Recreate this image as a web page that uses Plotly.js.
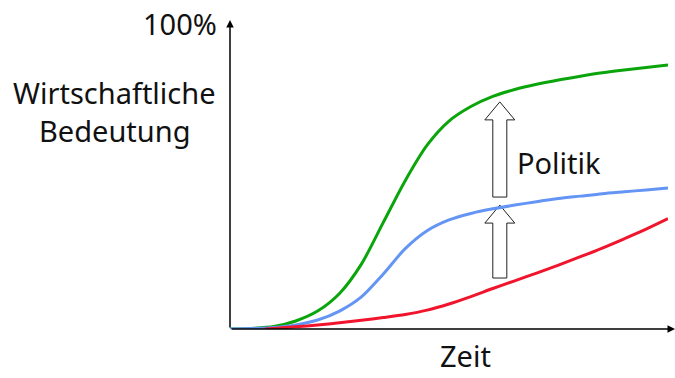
<!DOCTYPE html>
<html><head><meta charset="utf-8">
<script src="https://cdn.plot.ly/plotly-3.0.1.min.js"></script>
<style>html,body{margin:0;padding:0;background:#fff}#chart{width:675px;height:378px}</style>
</head><body><div id="chart"></div>
<script>
// Time (0..100) and economic importance (% of max)
const timeX = [0,5,10,15,20,25,30,35,40,45,50,55,60,65,70,75,80,85,90,95,100];
const greenY = [0,0.2,0.8,2.6,5.8,11.5,21.0,34.5,48.0,59.5,67.3,72.0,75.3,77.5,79.2,80.6,81.8,82.9,83.8,84.6,85.4];
const blueY  = [0,0.15,0.5,1.3,2.9,5.8,10.4,17.8,26.0,31.8,35.3,37.4,38.9,40.1,41.2,42.2,43.0,43.8,44.4,45.0,45.6];
const redX   = [8,10,15,20,25,30,35,40,45,50,55,60,65,70,75,80,85,90,95,100];
const redY   = [0,0.2,0.7,1.3,2.0,2.8,3.7,4.7,6.1,8.1,10.5,13.1,15.6,18.1,20.7,23.4,26.2,29.2,32.3,35.7];
// Policy arrows (x position, from level, to level)
const arrowX = 61.6;
const arrowFrom = [16.5, 42.7];
const arrowTo = [40.1, 73.5];
const labels = {top: '100%', y1: 'Wirtschaftliche', y2: 'Bedeutung', x: 'Zeit', policy: 'Politik'};

const W = 675, H = 378;
const M = {l: 230, r: 7, t: 20, b: 49};
const PW = W - M.l - M.r, PH = H - M.t - M.b;
const pxX = PW / 100, pxY = PH / 100;
const px = v => (v - M.l) / PW;          // pixel -> paper x
const py = v => (H - M.b - v) / PH;      // pixel -> paper y
const FONT = {family: 'Noto Sans, Open Sans, sans-serif', size: 29, color: '#111'};

function line(x, y, c) {
  return {x: x, y: y, type: 'scatter', mode: 'lines', line: {color: c, width: 3, shape: 'spline', smoothing: 0.8}, hoverinfo: 'skip'};
}
const traces = [
  line(timeX, greenY, '#0aa50a'),
  line(timeX, blueY, '#6495f5'),
  line(redX, redY, '#f0142d')
];

// hollow arrows
const shaftHalf = 7 / pxX, headHalf = 15 / pxX, headLen = 18 / pxY;
const shapes = arrowFrom.map((f, i) => {
  const t = arrowTo[i], b = t - headLen;
  const p = [[arrowX - shaftHalf, f], [arrowX - shaftHalf, b], [arrowX - headHalf, b], [arrowX, t],
             [arrowX + headHalf, b], [arrowX + shaftHalf, b], [arrowX + shaftHalf, f]];
  return {type: 'path', xref: 'x', yref: 'y', layer: 'below',
    path: 'M' + p.map(q => q[0] + ',' + q[1]).join(' L') + ' Z',
    line: {color: '#222', width: 1}, fillcolor: '#fff'};
});

const annotations = [
  // y axis arrow
  {x: 0, y: 100, ax: 0, ay: 0, xref: 'x', yref: 'y', axref: 'x', ayref: 'y', text: '', showarrow: true,
   arrowhead: 2, arrowsize: 1, arrowwidth: 1.5, arrowcolor: '#000'},
  // x axis arrow
  {x: 101.6, y: 0, ax: 0, ay: 0, xref: 'x', yref: 'y', axref: 'x', ayref: 'y', text: '', showarrow: true,
   arrowhead: 2, arrowsize: 1, arrowwidth: 1.5, arrowcolor: '#000'},
  {x: px(219), y: py(24), xref: 'paper', yref: 'paper', text: labels.top, showarrow: false, xanchor: 'right', yanchor: 'middle', font: FONT},
  {x: px(114), y: py(92), xref: 'paper', yref: 'paper', text: labels.y1, showarrow: false, xanchor: 'center', yanchor: 'middle', font: FONT},
  {x: px(114), y: py(130), xref: 'paper', yref: 'paper', text: labels.y2, showarrow: false, xanchor: 'center', yanchor: 'middle', font: FONT},
  {x: px(515), y: py(162), xref: 'paper', yref: 'paper', text: labels.policy, showarrow: false, xanchor: 'left', yanchor: 'middle', font: FONT},
  {x: px(465), y: py(377), xref: 'paper', yref: 'paper', text: labels.x, showarrow: false, xanchor: 'center', yanchor: 'bottom', font: FONT}
];

const layout = {
  width: W, height: H, margin: M, showlegend: false,
  paper_bgcolor: '#fff', plot_bgcolor: '#fff',
  xaxis: {range: [0, 100], visible: false, fixedrange: true},
  yaxis: {range: [0, 100], visible: false, fixedrange: true},
  shapes: shapes, annotations: annotations
};
Plotly.newPlot('chart', traces, layout, {staticPlot: true, displayModeBar: false});
</script></body></html>
